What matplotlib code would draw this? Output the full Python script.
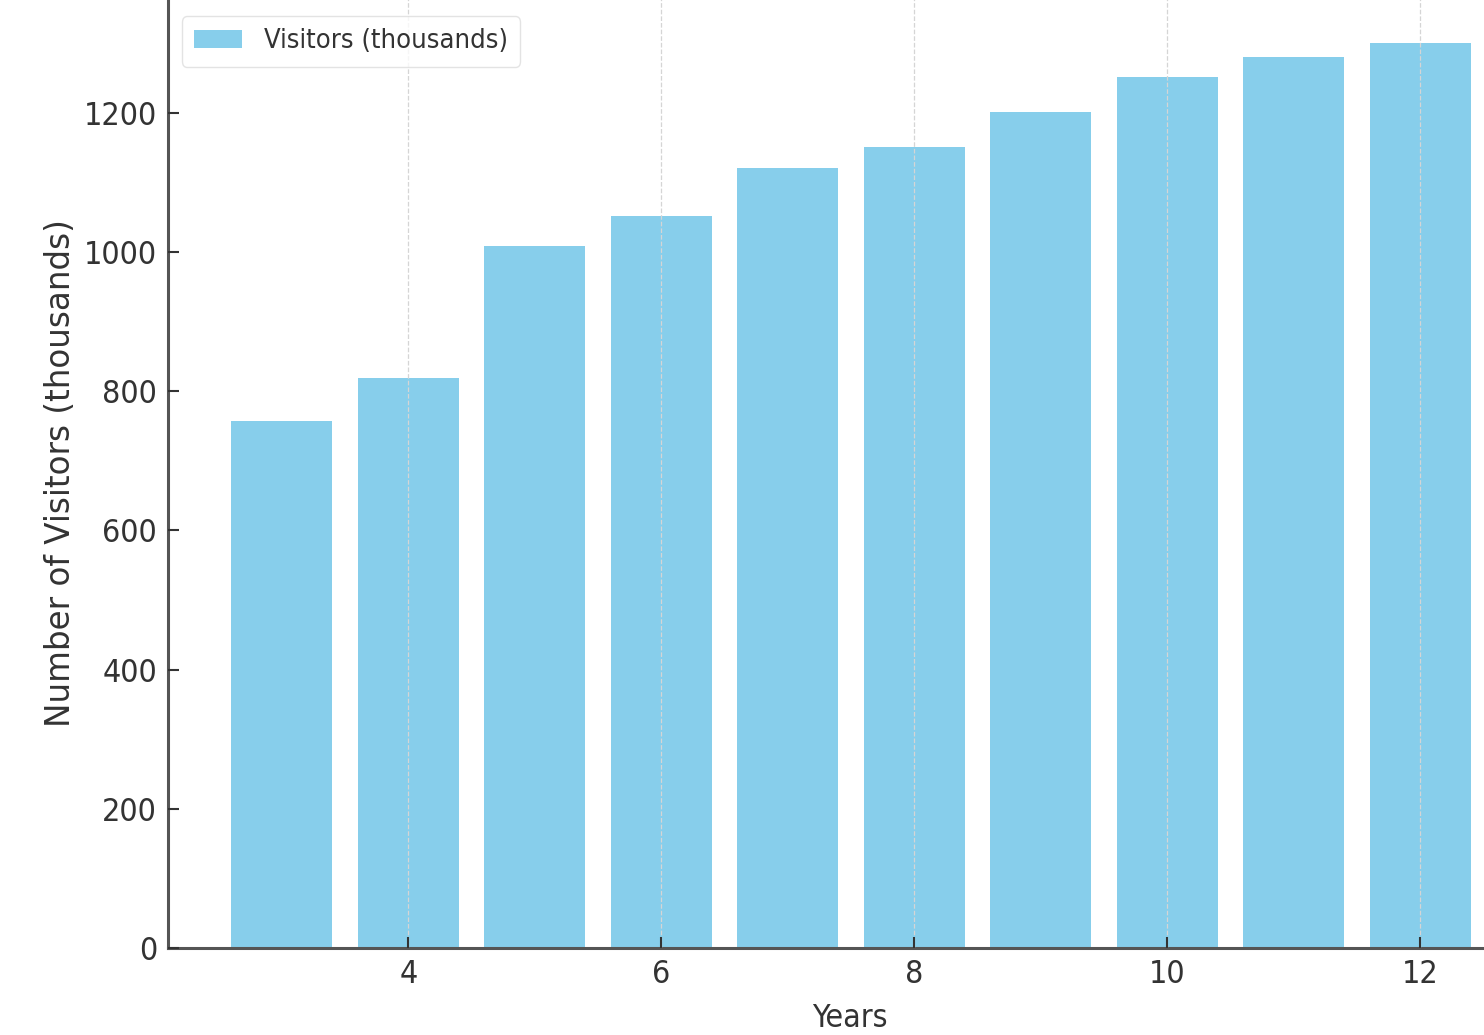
import matplotlib
matplotlib.use("Agg")
import matplotlib.pyplot as plt

years = [3, 4, 5, 6, 7, 8, 9, 10, 11, 12]
visitors = [757, 819, 1009, 1052, 1121, 1151, 1201, 1252, 1280, 1300]
xticks = [4, 6, 8, 10, 12]
yticks = [0, 200, 400, 600, 800, 1000, 1200]

stretch = "condensed"

fig = plt.figure(figsize=(14.84, 10.35), dpi=100)
ax = fig.add_axes([168/1484, 87/1035, 1334.6/1484, 950/1035])

ax.bar(years, visitors, width=0.8, color="skyblue", label="Visitors (thousands)", zorder=2)
ax.set_xlim(2.1, 12.65)
ax.set_ylim(0, 1365)
ax.set_xticks(xticks)
ax.set_yticks(yticks)
ax.xaxis.grid(True, linestyle="--", color="#d5d5d5", linewidth=0.9, zorder=3)
ax.set_axisbelow(False)
for s in ["top", "right"]:
    ax.spines[s].set_visible(False)
for s in ["left", "bottom"]:
    ax.spines[s].set_color("#555555")
    ax.spines[s].set_linewidth(2.2)
ax.tick_params(direction="in", length=8, width=1.5, color="#333333", labelsize=23,
               labelcolor="#333333", pad=8)
for lab in ax.get_xticklabels() + ax.get_yticklabels():
    lab.set_fontstretch(stretch)

ax.set_xlabel("Years", fontsize=23, color="#333333", fontstretch=stretch)
ax.xaxis.set_label_coords(0.511, -0.058)
ax.set_ylabel("Number of Visitors (thousands)", fontsize=23.5, color="#333333")
ax.yaxis.set_label_coords(-0.068, 0.5)

leg = ax.legend(loc="upper left", fontsize=19.5, frameon=True, fancybox=True,
                bbox_to_anchor=(0.0, 0.995), borderaxespad=0.5,
                handlelength=1.8, borderpad=0.45)
for t in leg.get_texts():
    t.set_fontstretch(stretch)
    t.set_color("#333333")
leg.get_frame().set_edgecolor("#dddddd")

fig.savefig("out.png", dpi=100)
